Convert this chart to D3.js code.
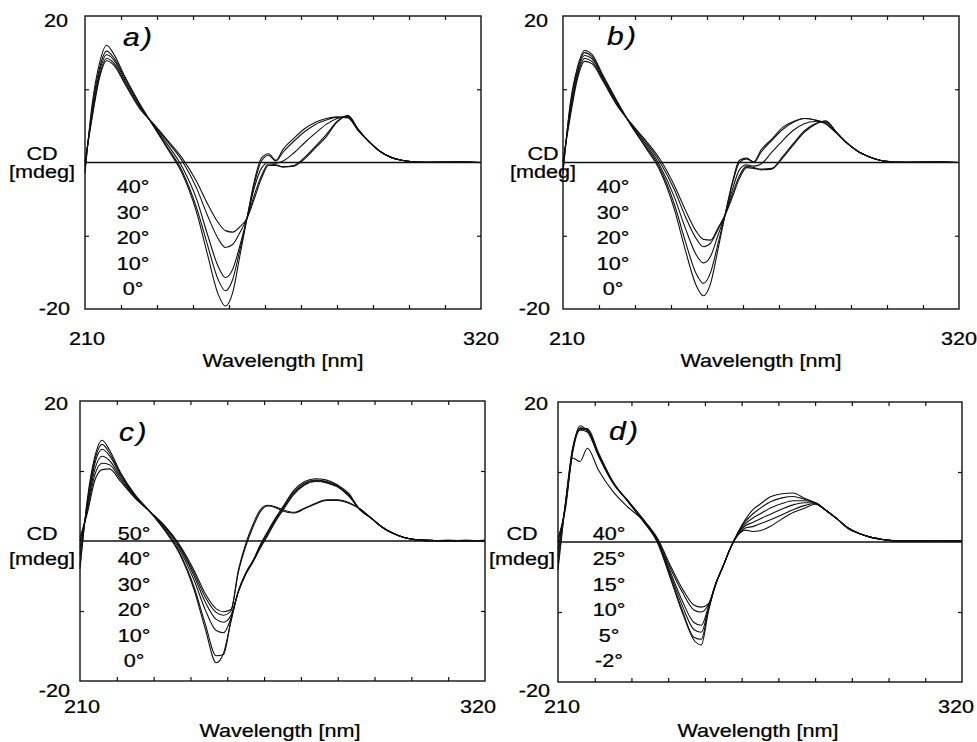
<!DOCTYPE html>
<html>
<head>
<meta charset="utf-8">
<script src="https://d3js.org/d3.v7.min.js"></script>
<style>
  body { margin: 0; background: #fff; }
  text { font-family: "Liberation Sans", Arial, sans-serif; fill: #000; }
</style>
</head>
<body>
<script>
// wavelengths (nm) shared by every curve
var wl = [210, 212, 214, 216, 218, 221, 225, 229, 233, 237,
          241, 244, 247, 249, 251, 253, 255, 257, 259, 261,
          263, 265, 268, 271, 274, 277, 280, 283, 286, 289,
          292, 295, 298, 301, 305, 310, 315, 320];

// panel a) CD [mdeg]
var aLabels = ["40°", "30°", "20°", "10°", "0°"];
var a0  = [-1.5, 8.0, 13.5, 16.0, 14.8, 11.8, 8.2, 5.0, 1.8, -1.5,
           -6.8, -12.5, -18.0, -19.6, -17.8, -12.8, -7.6, -2.6, 0.6, 1.2,
           0.3, 1.8, 3.3, 4.6, 5.5, 6.0, 6.2, 6.1, 4.3, 2.8,
           1.5, 0.7, 0.3, 0.1, 0.1, 0.0, 0.1, 0.0];
var a10 = [-1.0, 7.4, 12.8, 15.2, 14.3, 11.6, 8.1, 5.0, 2.0, -1.2,
           -6.2, -11.2, -16.0, -17.5, -16.0, -12.0, -7.6, -3.0, 0.2, 1.0,
           0.2, 1.4, 2.9, 4.2, 5.2, 5.8, 6.2, 6.1, 4.3, 2.8,
           1.5, 0.7, 0.3, 0.1, 0.0, 0.1, 0.0, 0.0];
var a20 = [-0.5, 6.9, 12.3, 14.7, 14.0, 11.3, 7.9, 5.1, 2.4, -0.6,
           -5.0, -9.8, -14.2, -15.7, -14.6, -11.4, -7.6, -3.5, -0.8, 0.0,
           -0.1, 0.2, 1.3, 2.7, 4.0, 5.2, 6.0, 6.3, 4.3, 2.8,
           1.5, 0.7, 0.3, 0.1, 0.0, 0.0, 0.1, 0.0];
var a30 = [0.0, 6.4, 11.8, 14.2, 13.6, 11.0, 7.7, 5.2, 2.8, 0.2,
           -3.5, -7.2, -10.4, -11.6, -11.2, -9.6, -7.6, -4.5, -1.8, -0.2,
           -0.3, -0.6, -0.4, 0.7, 2.2, 3.8, 5.6, 6.4, 4.4, 2.8,
           1.5, 0.7, 0.3, 0.1, 0.0, 0.1, 0.0, 0.0];
var a40 = [0.2, 6.2, 11.5, 13.9, 13.3, 10.8, 7.5, 5.3, 3.0, 0.6,
           -2.6, -5.6, -8.2, -9.3, -9.5, -8.8, -7.6, -5.0, -2.2, -0.4,
           -0.4, -0.6, -0.5, 0.5, 2.0, 3.5, 5.5, 6.4, 4.5, 2.8,
           1.5, 0.7, 0.3, 0.1, 0.0, 0.0, 0.1, 0.0];

// panel b)
var bLabels = ["40°", "30°", "20°", "10°", "0°"];
var b0  = [-1.5, 8.0, 13.0, 15.3, 14.8, 12.0, 8.4, 5.0, 2.0, -1.2,
           -6.5, -12.0, -16.8, -18.2, -16.5, -12.0, -7.2, -2.8, 0.3, 0.6,
           0.1, 1.7, 3.2, 4.8, 5.6, 6.0, 5.8, 5.3, 4.0, 2.6,
           1.5, 0.8, 0.3, 0.1, 0.1, 0.0, 0.1, 0.0];
var b10 = [-1.0, 7.6, 12.6, 15.0, 14.5, 11.8, 8.3, 5.0, 2.2, -0.9,
           -5.8, -10.8, -15.2, -16.5, -15.0, -11.2, -7.2, -3.0, 0.0, 0.5,
           0.0, 1.4, 3.0, 4.5, 5.5, 6.0, 5.8, 5.3, 4.0, 2.6,
           1.5, 0.8, 0.3, 0.1, 0.0, 0.1, 0.0, 0.0];
var b20 = [-0.5, 7.0, 12.2, 14.6, 14.2, 11.6, 8.1, 5.1, 2.5, -0.5,
           -4.8, -9.0, -12.6, -13.7, -12.8, -10.0, -7.2, -3.8, -1.0, -0.3,
           -0.5, -0.2, 1.4, 3.0, 4.4, 5.3, 5.6, 5.5, 4.0, 2.6,
           1.5, 0.8, 0.3, 0.1, 0.0, 0.0, 0.1, 0.0];
var b30 = [0.0, 6.6, 11.8, 14.2, 13.8, 11.4, 8.0, 5.2, 2.8, 0.0,
           -3.8, -7.4, -10.4, -11.5, -11.0, -9.2, -7.2, -4.4, -1.8, -0.5,
           -0.7, -0.9, -0.8, 0.8, 2.6, 4.3, 5.3, 5.6, 4.1, 2.6,
           1.5, 0.8, 0.3, 0.1, 0.0, 0.1, 0.0, 0.0];
var b40 = [0.2, 6.2, 11.4, 13.8, 13.5, 11.2, 7.8, 5.3, 3.0, 0.4,
           -3.2, -6.5, -9.4, -10.5, -10.6, -9.0, -7.2, -4.8, -2.2, -0.7,
           -0.8, -1.0, -0.9, 0.6, 2.4, 4.1, 5.2, 5.7, 4.1, 2.6,
           1.5, 0.8, 0.3, 0.1, 0.0, 0.0, 0.1, 0.0];

// panel c)
var cLabels = ["50°", "40°", "30°", "20°", "10°", "0°"];
var c0  = [-4.0, 6.0, 12.0, 14.4, 13.0, 9.8, 6.6, 4.2, 1.5, -1.8,
           -7.0, -12.5, -17.4, -16.0, -11.5, -7.2, -4.6, -2.8, -0.5, 1.4,
           3.2, 4.8, 7.2, 8.5, 8.9, 8.7, 8.0, 6.8, 4.5, 3.3,
           2.0, 1.1, 0.5, 0.2, 0.1, 0.0, 0.1, 0.0];
var c10 = [-3.5, 5.6, 11.5, 13.8, 12.6, 9.6, 6.5, 4.2, 1.6, -1.6,
           -6.6, -11.8, -16.4, -16.2, -11.3, -7.2, -4.6, -2.8, -0.6, 1.2,
           3.1, 4.7, 7.0, 8.3, 8.7, 8.5, 7.9, 6.6, 4.5, 3.3,
           2.0, 1.1, 0.5, 0.2, 0.1, 0.0, 0.0, 0.1];
var c20 = [-2.0, 5.2, 11.0, 13.1, 12.2, 9.4, 6.4, 4.2, 1.8, -1.2,
           -5.6, -9.8, -12.8, -13.1, -11.0, -7.2, -4.7, -2.9, -0.8, 1.0,
           2.9, 4.5, 6.8, 8.1, 8.6, 8.4, 7.8, 6.5, 4.5, 3.3,
           2.0, 1.1, 0.5, 0.2, 0.0, 0.1, 0.0, 0.0];
var c30 = [-1.0, 4.8, 10.2, 12.1, 11.5, 9.1, 6.3, 4.2, 2.0, -0.9,
           -5.0, -8.7, -11.2, -11.6, -10.6, -7.3, -4.8, -3.0, -1.0, 0.8,
           2.7, 4.3, 6.6, 8.0, 8.5, 8.3, 7.7, 6.4, 4.5, 3.3,
           2.0, 1.1, 0.5, 0.2, 0.1, 0.0, 0.1, 0.0];
var c40 = [0.0, 4.4, 9.4, 11.1, 10.9, 8.8, 6.2, 4.2, 2.1, -0.7,
           -4.6, -8.0, -10.2, -10.6, -10.0, -4.5, -0.8, 2.0, 4.2, 5.0,
           4.8, 4.3, 4.0, 4.6, 5.3, 5.8, 5.8, 5.4, 4.6, 3.3,
           2.0, 1.1, 0.5, 0.2, 0.1, 0.0, 0.0, 0.1];
var c50 = [0.5, 4.0, 8.6, 10.2, 10.3, 8.5, 6.1, 4.2, 2.2, -0.5,
           -4.2, -7.5, -9.7, -10.1, -9.8, -4.2, -0.4, 2.4, 4.5, 5.1,
           4.9, 4.5, 4.1, 4.7, 5.4, 5.9, 5.9, 5.5, 4.6, 3.3,
           2.0, 1.1, 0.5, 0.2, 0.0, 0.1, 0.0, 0.0];

// panel d)
var dLabels = ["40°", "25°", "15°", "10°", "5°", "-2°"];
var dm2 = [-4.0, 5.5, 13.5, 16.0, 16.2, 12.8, 8.6, 5.8, 3.1, 0.0,
           -5.8, -10.3, -14.0, -14.7, -9.8, -6.0, -3.4, -0.8, 1.4, 3.2,
           4.6, 5.4, 6.5, 6.9, 7.0, 6.3, 5.6, 4.5, 3.3, 1.9,
           1.2, 0.7, 0.4, 0.2, 0.2, 0.1, 0.2, 0.1];
var d5  = [-3.0, 5.4, 13.3, 16.2, 16.0, 12.6, 8.5, 5.8, 3.1, 0.1,
           -5.6, -10.0, -13.6, -13.9, -9.6, -5.9, -3.4, -0.8, 1.3, 2.9,
           4.0, 4.8, 5.8, 6.3, 6.5, 6.1, 5.6, 4.5, 3.3, 2.0,
           1.2, 0.7, 0.4, 0.2, 0.1, 0.2, 0.1, 0.2];
var d10 = [-2.0, 5.3, 13.2, 16.6, 15.8, 12.5, 8.5, 5.9, 3.2, 0.2,
           -5.2, -9.3, -12.5, -12.9, -9.4, -5.9, -3.4, -0.8, 1.2, 2.6,
           3.4, 4.0, 4.9, 5.5, 5.9, 5.9, 5.6, 4.5, 3.3, 2.0,
           1.2, 0.7, 0.4, 0.2, 0.2, 0.1, 0.2, 0.1];
var d15 = [-1.0, 5.2, 13.0, 16.3, 16.1, 12.4, 8.4, 5.9, 3.3, 0.3,
           -4.8, -8.6, -11.5, -11.9, -9.2, -5.9, -3.4, -0.8, 1.1, 2.3,
           2.8, 3.3, 4.0, 4.7, 5.3, 5.6, 5.6, 4.5, 3.3, 2.0,
           1.2, 0.7, 0.4, 0.2, 0.1, 0.2, 0.1, 0.1];
var d25 = [0.0, 5.0, 12.8, 16.0, 15.7, 12.3, 8.4, 5.9, 3.4, 0.5,
           -4.2, -7.3, -9.7, -10.0, -8.9, -5.9, -3.4, -0.8, 1.0, 2.0,
           2.2, 2.6, 3.2, 3.9, 4.6, 5.2, 5.5, 4.5, 3.3, 2.0,
           1.2, 0.7, 0.4, 0.2, 0.2, 0.1, 0.1, 0.2];
var d40 = [0.5, 4.6, 12.0, 11.5, 13.4, 10.3, 7.2, 5.0, 3.2, 0.6,
           -3.8, -6.8, -9.0, -9.3, -8.8, -5.9, -3.4, -0.8, 1.0, 1.7,
           1.5, 1.6, 2.3, 3.3, 4.2, 4.8, 5.4, 4.5, 3.3, 2.0,
           1.2, 0.7, 0.4, 0.2, 0.1, 0.2, 0.1, 0.1];

var xTicks = [220, 230, 240, 250, 260, 270, 280, 290, 300, 310];
var yTicks = [-10, 10];

// layout of the four panels (pixel boxes and where the texts sit)
var panels = [
  { letter: "a", series: [a40, a30, a20, a10, a0], labels: aLabels,
    x0: 85, x1: 481, yt: 16, yb: 309,
    letterPos: [123, 46], tempX: 133, tempY: 193, tempStep: 25.5,
    cdX: 42, cdY: 160, mdY: 178, topLab: [68, 27], botLab: [70, 315],
    xLabY: 345, x210: 87, x320: 481, wlX: 283, wlY: 367 },
  { letter: "b", series: [b40, b30, b20, b10, b0], labels: bLabels,
    x0: 563, x1: 959, yt: 16, yb: 309,
    letterPos: [607, 45], tempX: 613, tempY: 193, tempStep: 25.5,
    cdX: 543, cdY: 160, mdY: 178, topLab: [548, 27], botLab: [550, 315],
    xLabY: 345, x210: 567, x320: 959, wlX: 761, wlY: 367 },
  { letter: "c", series: [c50, c40, c30, c20, c10, c0], labels: cLabels,
    x0: 80, x1: 485, yt: 401, yb: 681,
    letterPos: [119, 441], tempX: 134, tempY: 540, tempStep: 25.4,
    cdX: 42, cdY: 540, mdY: 565, topLab: [68, 410], botLab: [70, 697],
    xLabY: 713, x210: 82, x320: 478, wlX: 280, wlY: 737 },
  { letter: "d", series: [d40, d25, d15, d10, d5, dm2], labels: dLabels,
    x0: 558, x1: 962, yt: 402, yb: 682,
    letterPos: [609, 440], tempX: 609, tempY: 540, tempStep: 25.4,
    cdX: 522, cdY: 540, mdY: 565, topLab: [548, 410], botLab: [550, 697],
    xLabY: 713, x210: 562, x320: 956, wlX: 758, wlY: 737 }
];

var svg = d3.select("body").append("svg")
    .attr("width", 977)
    .attr("height", 742);

// the scan's type is wider than Arial, so stretch it a bit sideways
var SX = 1.2;
function label(g, x, y, txt, anchor, size, italic) {
  return g.append("text")
      .attr("transform", "translate(" + x + "," + y + ") scale(" + SX + ",1)")
      .attr("text-anchor", anchor || "middle")
      .style("font-size", (size || 18) + "px")
      .style("font-style", italic ? "italic" : "normal")
      .style("stroke", "#000")
      .style("stroke-width", 0.25)
      .text(txt);
}

panels.forEach(function (p) {
  var g = svg.append("g").attr("class", "panel-" + p.letter);
  var x = d3.scaleLinear().domain([210, 320]).range([p.x0, p.x1]);
  var y = d3.scaleLinear().domain([-20, 20]).range([p.yb, p.yt]);

  // inward ticks on all four sides
  var axes = [
    [d3.axisBottom(x).tickValues(xTicks), "translate(0," + p.yb + ")"],
    [d3.axisTop(x).tickValues(xTicks), "translate(0," + p.yt + ")"],
    [d3.axisLeft(y).tickValues(yTicks), "translate(" + p.x0 + ",0)"],
    [d3.axisRight(y).tickValues(yTicks), "translate(" + p.x1 + ",0)"]
  ];
  axes.forEach(function (a) {
    var ax = g.append("g").attr("transform", a[1])
        .call(a[0].tickSize(-4).tickFormat(""));
    ax.select(".domain").remove();
    ax.selectAll("line").attr("stroke", "#111").attr("stroke-width", 1.2);
  });

  // frame
  g.append("rect")
      .attr("x", x(210)).attr("y", y(20))
      .attr("width", x(320) - x(210)).attr("height", y(-20) - y(20))
      .attr("fill", "none").attr("stroke", "#111").attr("stroke-width", 1.4);

  // zero line
  g.append("line")
      .attr("x1", x(210)).attr("x2", x(320))
      .attr("y1", y(0)).attr("y2", y(0))
      .attr("stroke", "#111").attr("stroke-width", 1.3);

  var line = d3.line()
      .x(function (d, i) { return x(wl[i]); })
      .y(function (d) { return y(d); })
      .curve(d3.curveMonotoneX);

  g.selectAll("path.curve")
      .data(p.series)
      .enter()
      .append("path")
      .attr("class", "curve")
      .attr("d", line)
      .attr("fill", "none")
      .attr("stroke", "#111")
      .attr("stroke-width", 1.1)
      .attr("stroke-linejoin", "round");

  // texts
  label(g, p.letterPos[0], p.letterPos[1], p.letter + ")", "start", 25, true)
      .attr("letter-spacing", 2);
  p.labels.forEach(function (t, i) {
    label(g, p.tempX, p.tempY + i * p.tempStep, t);
  });
  label(g, p.cdX, p.cdY, "CD");
  label(g, p.cdX, p.mdY, "[mdeg]");
  label(g, p.topLab[0], p.topLab[1], "20", "end");
  label(g, p.botLab[0], p.botLab[1], "-20", "end");
  label(g, p.x210, p.xLabY, "210");
  label(g, p.x320, p.xLabY, "320");
  label(g, p.wlX, p.wlY, "Wavelength [nm]");
});
</script>
</body>
</html>
